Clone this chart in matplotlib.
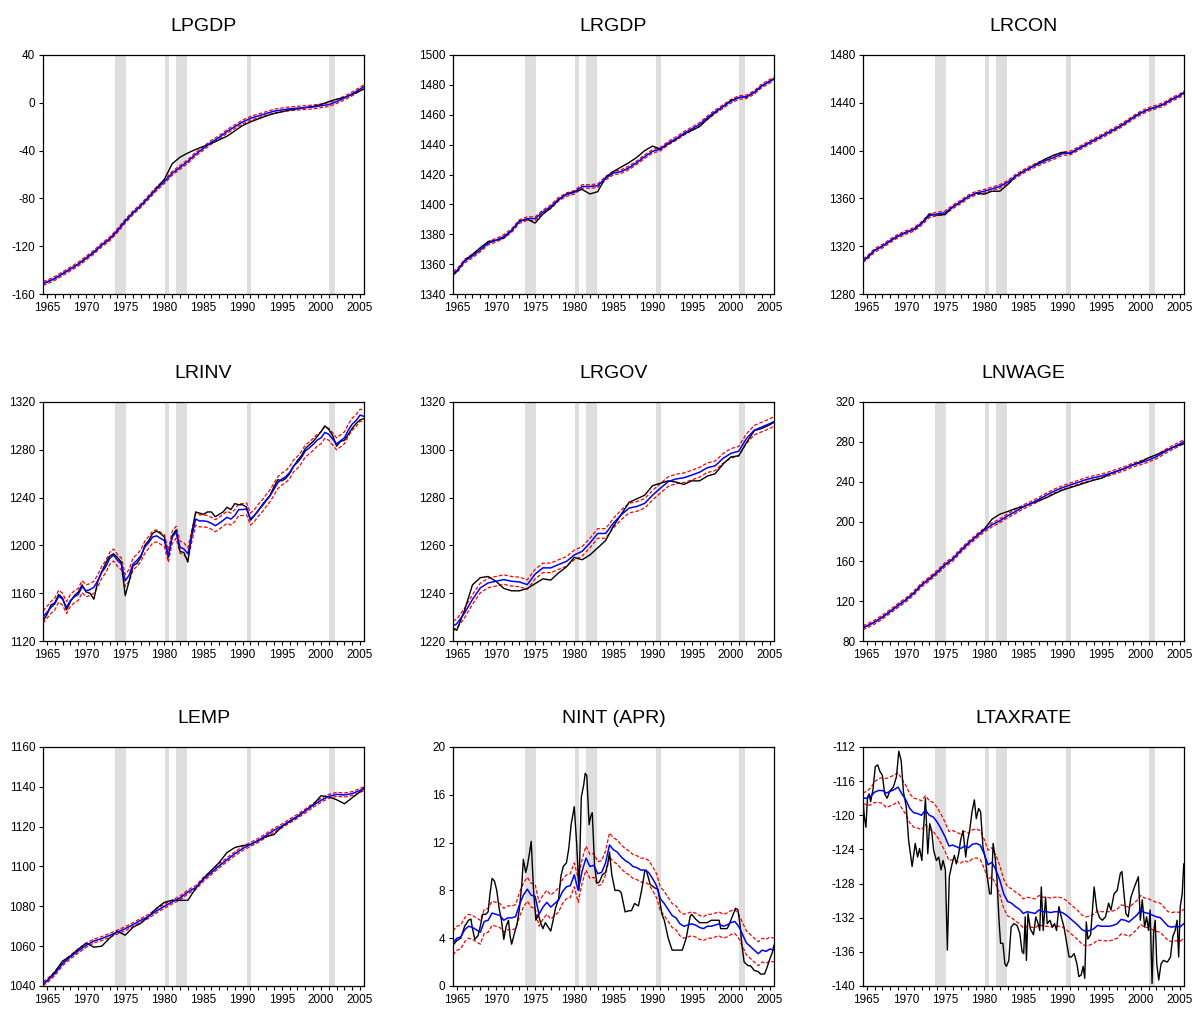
import numpy as np
import matplotlib
matplotlib.use('Agg')
import matplotlib.pyplot as plt
from matplotlib.ticker import MultipleLocator

plt.rcParams['font.family'] = ['Liberation Sans', 'DejaVu Sans']

# time grids (fractional years)
years = np.array([1964.5] + list(range(1965, 2006)) + [2005.5])
half_years = np.arange(1964.5, 2005.51, 0.5)

# recession bars (start, end)
RECESSIONS = [(1973.75, 1975.15), (1980.05, 1980.65), (1981.55, 1982.95),
              (1990.5, 1991.1), (2001.0, 2001.85)]

# ---- annual series: actual (black) and smoothed estimate (blue) ----
lpgdp_est = [-151, -150, -147, -143, -139, -135,
             -130, -125, -119, -114, -107, -99, -92, -86, -79, -72,
             -66, -59, -54, -49, -43, -38, -33, -29, -24, -20,
             -16, -13, -11, -9, -7, -6, -5, -4.5, -4, -3.5,
             -2.5, -1.5, 1, 4, 7.5, 11.5, 13.5]
lpgdp_act = [-151, -150, -147, -143, -139, -135,
             -130, -125, -119, -114, -107, -99, -92, -86, -79, -71.5,
             -64, -51, -45.5, -42, -39, -36.5, -34, -31, -28, -23.5,
             -19, -16, -13.5, -11, -9, -7.5, -6, -5, -4, -3,
             -1.5, 1, 3, 4.5, 7, 10, 11.5]

lrgdp_est = [1354, 1355.5, 1362, 1365.5, 1369.5, 1374,
             1376, 1378.5, 1382.5, 1388.5, 1390.5, 1390.5, 1395, 1398.5, 1403.5, 1406.5,
             1408, 1412, 1412, 1412.5, 1417.5, 1421, 1422, 1424.5, 1428, 1432,
             1435.5, 1437, 1441, 1444, 1447.5, 1450.5, 1453.5, 1458, 1462, 1465.5,
             1469, 1471.5, 1472, 1475, 1479.5, 1482.5, 1484]
lrgdp_act = [1353, 1355, 1362.5, 1366.5, 1371, 1375,
             1376, 1377.5, 1382.5, 1389, 1390, 1387.5, 1393.5, 1397.5, 1403, 1407,
             1408.5, 1410, 1407, 1408.5, 1418, 1422, 1425, 1428, 1431.5, 1436,
             1439, 1437, 1440.5, 1443.5, 1447, 1449.5, 1452, 1457, 1461.5, 1465.5,
             1469.5, 1471.5, 1472, 1475, 1479.5, 1482.5, 1484]

lrcon_est = [1308, 1310, 1316.5, 1320, 1324.5, 1328.5,
             1331.5, 1334, 1339, 1345.5, 1347, 1348, 1353, 1357, 1361.5, 1364.5,
             1366, 1368, 1370, 1373.5, 1378.5, 1382.5, 1386, 1389, 1392, 1394.5,
             1397.5, 1398, 1401.5, 1405, 1408.5, 1412, 1415.5, 1419, 1423, 1427.5,
             1431.5, 1434.5, 1436.5, 1439, 1443, 1446, 1448.5]
lrcon_act = [1308, 1310, 1316.5, 1320, 1324.5, 1328.5,
             1331.5, 1334, 1339, 1347, 1346, 1346.5, 1353, 1357, 1361.5, 1364.5,
             1363.5, 1366, 1366, 1371.5, 1378.5, 1382.5, 1386, 1390, 1393.5, 1396.5,
             1398.5, 1397.5, 1401.5, 1405, 1408.5, 1412, 1415.5, 1419, 1423, 1427.5,
             1431.5, 1434.5, 1436.5, 1439, 1443, 1446, 1448.5]

lrgov_est = [1226.3, 1227.2, 1231.8, 1237.4, 1242.2, 1244.3,
             1245, 1245.7, 1245, 1244.7, 1243.6, 1248, 1250.6, 1250.6, 1252, 1253.3,
             1256, 1257.5, 1261, 1265, 1265, 1269.3, 1272.8, 1275.6, 1276.3, 1277.6,
             1281, 1283.9, 1286.7, 1287.8, 1288.3, 1289.4, 1290.6, 1292.5, 1293.3, 1296.4,
             1298.5, 1299.4, 1304.7, 1308.2, 1309.6, 1311, 1311.8]
lrgov_act = [1225.5, 1224.5, 1233, 1243.5, 1246.5, 1247,
             1245, 1242, 1241, 1241, 1242, 1244, 1246, 1245.5, 1248.5, 1251,
             1255, 1254, 1256, 1259, 1262, 1268, 1273, 1278, 1279.5, 1281,
             1285, 1286, 1287, 1286.5, 1285.5, 1287, 1287, 1289, 1290, 1294,
             1297, 1297.5, 1303, 1308, 1309, 1310.5, 1311.5]

lnwage_est = [93.3, 95, 99, 104, 109.7, 115.7,
              121.3, 128, 136.3, 142.3, 149, 156.7, 162.3, 170.7, 178.3, 185,
              191.3, 196.7, 200.7, 205.7, 210, 214.7, 218.3, 222.3, 226.7, 230.7,
              234, 236.7, 239.3, 242, 244, 245.7, 248, 250.7, 253.3, 256.7,
              259, 261.7, 265, 269.7, 274, 278, 280]
lnwage_act = [93.3, 95, 99, 104, 109.7, 115.7,
              121.3, 128, 136.3, 142.3, 149, 156.7, 162.3, 170.7, 178.3, 185,
              192, 202.3, 207.3, 210, 213, 215, 218, 221, 224, 228,
              231.5, 234, 236.5, 239, 241.5, 243.5, 247.5, 250.5, 253.5, 257,
              260, 264, 267, 270.5, 274, 277, 278]

lemp_est = [1041.2, 1042.5, 1046.2, 1051.2, 1054.6, 1057.6,
            1060.4, 1062.6, 1063.8, 1065.4, 1067.1, 1068.8, 1070.8, 1073, 1075, 1077.7,
            1080, 1082.2, 1084.2, 1087.2, 1089.4, 1093.6, 1096.9, 1100.3, 1103.4, 1106.4,
            1109, 1111.1, 1113.1, 1115.6, 1118.2, 1120.3, 1122.8, 1125.2, 1127.9, 1130.7,
            1133.2, 1135.2, 1136.2, 1135.9, 1136.6, 1138.2, 1139]
lemp_act = [1041, 1042.5, 1047, 1052.5, 1055, 1058.5,
            1061.5, 1059.5, 1060, 1064, 1067.5, 1065.5, 1069.5, 1071.5, 1075, 1079,
            1082, 1083, 1083, 1083, 1089, 1094, 1098, 1102, 1107, 1109.5,
            1110.5, 1111, 1113, 1115, 1116, 1120, 1122.5, 1125, 1128, 1131,
            1135.5, 1135, 1133.5, 1131.5, 1134.5, 1137.5, 1139.5]

# ---- half-yearly series ----
lrinv_est = [1140,
             1144, 1148, 1151, 1157.5, 1155, 1148, 1154, 1157, 1159, 1165.5,
             1162, 1163, 1165, 1170.5, 1177.5, 1182, 1189, 1192, 1187.5, 1184.5,
             1170.5, 1175, 1184.5, 1187.5, 1191.5, 1198.5, 1202.5, 1207, 1208, 1206,
             1204, 1191, 1207, 1211, 1198.5, 1197, 1193, 1208, 1222, 1220.5,
             1220.5, 1220, 1218.5, 1216.5, 1218.5, 1221, 1223.5, 1222, 1225, 1230,
             1230, 1230.5, 1222, 1225, 1229.5, 1233, 1237.5, 1241.5, 1247, 1252.5,
             1255.5, 1257.5, 1261, 1266.5, 1269.5, 1273.5, 1279, 1281.5, 1284.5, 1288,
             1290, 1294.5, 1293, 1289, 1285, 1287.5, 1290, 1296.5, 1301.5, 1304.5,
             1309, 1308]
lrinv_act = [1137,
             1142, 1150, 1152, 1159, 1156, 1146, 1153, 1158, 1161, 1167,
             1161, 1160, 1155, 1170, 1178, 1185, 1191, 1193, 1190, 1186,
             1158, 1170, 1183, 1185, 1190, 1200, 1204, 1210, 1212, 1210,
             1207, 1190, 1208, 1213, 1195, 1194, 1186, 1210, 1228, 1227,
             1226, 1228, 1228, 1224, 1226, 1228, 1232, 1230, 1235, 1234,
             1234, 1232, 1221, 1225, 1229, 1234, 1238, 1242, 1249, 1255,
             1254, 1256, 1260, 1266, 1271, 1275, 1281, 1284, 1287, 1291,
             1295, 1300, 1297, 1292, 1283, 1287, 1288, 1293, 1298, 1302,
             1305, 1306]

nint_est = [3.6,
            4.0, 4.1, 4.7, 5.0, 4.9, 4.7, 4.5, 5.4, 5.5, 6.1,
            6.0, 5.9, 5.5, 5.7, 5.7, 5.8, 6.8, 7.6, 8.1, 7.6,
            7.5, 6.0, 6.6, 7.0, 6.6, 6.9, 7.2, 7.9, 8.3, 8.4,
            9.3, 8.0, 9.6, 10.7, 10.0, 10.1, 9.4, 9.5, 10.3, 11.8,
            11.4, 11.2, 10.8, 10.5, 10.3, 10.0, 9.9, 9.7, 9.7, 9.5,
            9.0, 8.4, 7.3, 6.9, 6.4, 5.9, 5.7, 5.2, 5.0, 5.1,
            5.2, 5.1, 4.9, 4.8, 5.0, 5.0, 5.1, 5.2, 5.0, 5.1,
            5.3, 5.4, 5.0, 4.3, 3.6, 3.3, 3.0, 2.7, 3.0, 2.9,
            3.1, 3.0]

ltax_est = [-118.0,
            -118.0, -117.8, -117.3, -117.1, -117.1, -117.4, -117.2, -117.0, -116.7, -117.5,
            -118.2, -119.2, -119.7, -119.8, -120.0, -119.4, -120.0, -120.2, -120.8, -121.6,
            -122.5, -123.6, -123.5, -123.7, -123.9, -123.6, -123.8, -123.4, -123.3, -123.5,
            -124.5, -125.8, -125.5, -126.4, -127.6, -129.2, -130.1, -130.3, -130.7, -131.0,
            -131.5, -131.3, -131.4, -131.5, -131.1, -131.3, -131.3, -131.4, -131.3, -131.3,
            -131.4, -131.7, -132.1, -132.5, -132.9, -133.4, -133.6, -133.5, -133.3, -132.9,
            -133.0, -133.0, -133.0, -132.9, -132.7, -132.2, -132.3, -132.5, -132.1, -131.7,
            -131.1, -131.4, -131.5, -131.7, -131.9, -132.0, -132.5, -133.0, -133.1, -133.0,
            -133.1, -132.7]
ltax_band = [0.6, 0.8, 1.0, 1.2, 1.4, 1.5] + [1.7] * 77

# ---- irregularly read actual series ----
nint_act_t = [1964.5, 1965.0, 1965.5, 1966.0, 1966.5, 1966.8, 1967.0, 1967.3, 1967.7, 1968.0,
              1968.3, 1968.7, 1969.0, 1969.2, 1969.5, 1969.8, 1970.1, 1970.4, 1970.7, 1971.0,
              1971.3, 1971.6, 1971.8, 1972.0, 1972.4, 1972.7, 1973.0, 1973.3, 1973.5, 1973.8,
              1974.0, 1974.3, 1974.5, 1974.8, 1975.1, 1975.4, 1975.7, 1976.0, 1976.3, 1976.6,
              1977.0, 1977.3, 1977.6, 1978.0, 1978.3, 1978.6, 1979.0, 1979.3, 1979.6, 1980.0,
              1980.3, 1980.6, 1980.9, 1981.2, 1981.4, 1981.6, 1981.9, 1982.1, 1982.3, 1982.6,
              1982.9, 1983.2, 1983.6, 1984.0, 1984.3, 1984.5, 1984.8, 1985.2, 1985.7, 1986.0,
              1986.5, 1987.0, 1987.3, 1987.7, 1988.2, 1988.6, 1989.0, 1989.2, 1989.7, 1990.3,
              1990.7, 1991.2, 1991.5, 1992.0, 1992.5, 1993.0, 1993.8, 1994.3, 1994.8, 1995.0,
              1995.5, 1996.0, 1997.0, 1997.5, 1998.5, 1998.7, 1999.5, 1999.7, 2000.3, 2000.6,
              2000.9, 2001.2, 2001.4, 2001.7, 2002.2, 2002.5, 2003.0, 2003.5, 2003.8, 2004.3,
              2004.6, 2005.0, 2005.3, 2005.5]
nint_act = [3.4, 3.8, 4.0, 5.0, 5.5, 5.6, 4.8, 3.9, 4.2, 5.0,
            6.0, 6.0, 6.2, 7.5, 9.0, 8.8, 8.0, 6.5, 5.5, 3.9,
            5.0, 5.5, 4.2, 3.5, 4.5, 5.2, 6.5, 8.5, 10.6, 9.5,
            10.0, 11.2, 12.1, 8.0, 5.5, 6.0, 5.3, 4.8, 5.3, 5.0,
            4.6, 5.5, 6.5, 7.3, 9.2, 10.0, 10.3, 11.5, 13.5, 15.0,
            12.0, 8.0, 15.8, 16.8, 17.8, 17.6, 13.5, 14.2, 14.5, 10.0,
            8.6, 8.7, 9.3, 9.5, 10.3, 11.2, 9.3, 8.0, 8.0, 7.8,
            6.2, 6.3, 6.3, 6.9, 6.7, 8.0, 9.6, 9.7, 8.5, 8.2,
            8.1, 6.0, 5.5, 4.0, 3.0, 3.0, 3.0, 4.0, 5.8, 6.0,
            5.6, 5.3, 5.3, 5.5, 5.5, 4.8, 4.8, 5.0, 6.0, 6.5,
            6.4, 5.0, 3.5, 2.0, 1.7, 1.7, 1.3, 1.2, 1.0, 1.0,
            1.5, 2.3, 2.8, 3.4]

ltax_act_t = [1964.5, 1964.7, 1964.9, 1965.1, 1965.3, 1965.5, 1965.8, 1966.1, 1966.4, 1966.7,
              1967.0, 1967.3, 1967.6, 1968.0, 1968.4, 1968.8, 1969.1, 1969.4, 1969.7, 1970.05,
              1970.35, 1970.8, 1971.2, 1971.5, 1971.75, 1972.05, 1972.3, 1972.5, 1972.8, 1973.05,
              1973.3, 1973.55, 1973.9, 1974.2, 1974.5, 1974.75, 1975.05, 1975.3, 1975.55, 1975.9,
              1976.2, 1976.45, 1976.75, 1977.0, 1977.3, 1977.65, 1977.9, 1978.15, 1978.45, 1978.75,
              1979.0, 1979.3, 1979.55, 1979.85, 1980.2, 1980.4, 1980.7, 1980.9, 1981.15, 1981.4,
              1981.65, 1981.9, 1982.1, 1982.4, 1982.65, 1982.85, 1983.15, 1983.45, 1983.8, 1984.2,
              1984.55, 1984.85, 1985.05, 1985.25, 1985.4, 1985.6, 1985.9, 1986.3, 1986.6, 1986.9,
              1987.1, 1987.3, 1987.55, 1987.85, 1988.05, 1988.4, 1988.7, 1989.0, 1989.25, 1989.55,
              1989.85, 1990.2, 1990.55, 1990.85, 1991.15, 1991.5, 1991.85, 1992.1, 1992.4, 1992.65,
              1992.85, 1993.05, 1993.25, 1993.6, 1994.05, 1994.4, 1994.75, 1995.1, 1995.5, 1995.9,
              1996.2, 1996.6, 1997.0, 1997.4, 1997.6, 1998.1, 1998.4, 1998.75, 1999.2, 1999.7,
              1999.95, 2000.2, 2000.5, 2000.75, 2001.0, 2001.2, 2001.45, 2001.65, 2001.85, 2002.05,
              2002.3, 2002.6, 2002.9, 2003.4, 2003.8, 2004.1, 2004.4, 2004.65, 2004.85, 2005.05,
              2005.3, 2005.5]
ltax_act = [-118.0, -120.2, -121.4, -117.9, -117.5, -118.4, -117.0, -114.3, -114.1, -114.9,
            -115.3, -117.5, -118.0, -117.1, -116.7, -115.5, -112.5, -113.6, -117.3, -119.0,
            -122.9, -126.0, -123.3, -124.9, -123.9, -125.3, -121.0, -118.0, -124.5, -121.0,
            -121.8, -124.1, -125.3, -124.9, -126.4, -125.3, -126.4, -135.8, -127.2, -125.7,
            -124.7, -125.7, -124.5, -122.9, -121.8, -124.9, -122.9, -121.8, -119.6, -118.2,
            -120.4, -119.2, -119.6, -123.7, -125.3, -127.2, -129.2, -129.2, -123.3, -124.9,
            -127.6, -132.3, -135.0, -135.0, -137.4, -137.7, -137.0, -133.1, -132.7, -132.9,
            -133.8, -136.0, -136.2, -131.9, -137.0, -131.5, -133.3, -134.0, -131.9, -132.7,
            -133.5, -128.4, -133.5, -129.6, -132.7, -132.3, -133.1, -132.7, -133.5, -130.7,
            -131.9, -133.1, -135.0, -136.6, -136.6, -136.2, -137.4, -138.9, -138.7, -137.7,
            -139.1, -132.5, -134.5, -134.0, -128.4, -131.1, -132.0, -132.3, -131.9, -130.3,
            -131.1, -129.2, -128.8, -126.8, -126.6, -131.5, -131.9, -129.6, -128.4, -127.2,
            -132.3, -129.9, -133.1, -131.9, -133.5, -131.1, -139.7, -133.8, -132.3, -137.4,
            -139.3, -137.4, -137.0, -137.2, -136.6, -134.2, -133.5, -132.3, -136.6, -130.7,
            -129.2, -125.7]

# title, actual x, actual, estimate x, estimate, band half-width, y range, y step
PANELS = [
    ('LPGDP', years, lpgdp_act, years, lpgdp_est, 1.6, (-160, 40), 40),
    ('LRGDP', years, lrgdp_act, years, lrgdp_est, 1.2, (1340, 1500), 20),
    ('LRCON', years, lrcon_act, years, lrcon_est, 1.5, (1280, 1480), 40),
    ('LRINV', half_years, lrinv_act, half_years, lrinv_est, 5.0, (1120, 1320), 40),
    ('LRGOV', years, lrgov_act, years, lrgov_est, 2.0, (1220, 1320), 20),
    ('LNWAGE', years, lnwage_act, years, lnwage_est, 2.0, (80, 320), 40),
    ('LEMP', years, lemp_act, years, lemp_est, 1.0, (1040, 1160), 20),
    ('NINT (APR)', nint_act_t, nint_act, half_years, nint_est, 1.0, (0, 20), 4),
    ('LTAXRATE', ltax_act_t, ltax_act, half_years, ltax_est, ltax_band, (-140, -112), 4),
]


def draw_panel(ax, title, t_act, act, t_est, est, band, ylim, ystep):
    for start, end in RECESSIONS:
        ax.axvspan(start, end, color='#dedede', lw=0, zorder=0)
    est = np.asarray(est, dtype=float)
    band = np.asarray(band, dtype=float)
    dash = (0, (3, 1.5))
    ax.plot(t_est, est + band, color='red', lw=0.9, ls=dash, zorder=2)
    ax.plot(t_est, est - band, color='red', lw=0.9, ls=dash, zorder=2)
    ax.plot(t_act, act, color='black', lw=1.0, zorder=3)
    ax.plot(t_est, est, color='blue', lw=1.1, zorder=4)

    ax.set_xlim(1964.5, 2005.5)
    ax.set_ylim(*ylim)
    ax.yaxis.set_major_locator(MultipleLocator(ystep))
    ax.set_xticks(range(1965, 2006, 5))
    ax.set_xticks(range(1965, 2006), minor=True)
    ax.yaxis.set_major_formatter(plt.FuncFormatter(lambda v, p: '%d' % v))
    ax.tick_params(which='both', direction='out', length=3, width=0.8,
                   labelsize=8.5, top=False, right=False, pad=2.5)
    for sp in ax.spines.values():
        sp.set_linewidth(0.9)
    ax.set_title(title, fontsize=14, pad=17)


fig = plt.figure(figsize=(11.95, 10.09), dpi=100)
lefts = [0.036, 0.379, 0.722]
bottoms = [0.7086, 0.3647, 0.0228]
width, height = 0.2686, 0.2369

for i, panel in enumerate(PANELS):
    row, col = divmod(i, 3)
    ax = fig.add_axes([lefts[col], bottoms[row], width, height])
    draw_panel(ax, *panel)

fig.savefig('out.png', dpi=100)
